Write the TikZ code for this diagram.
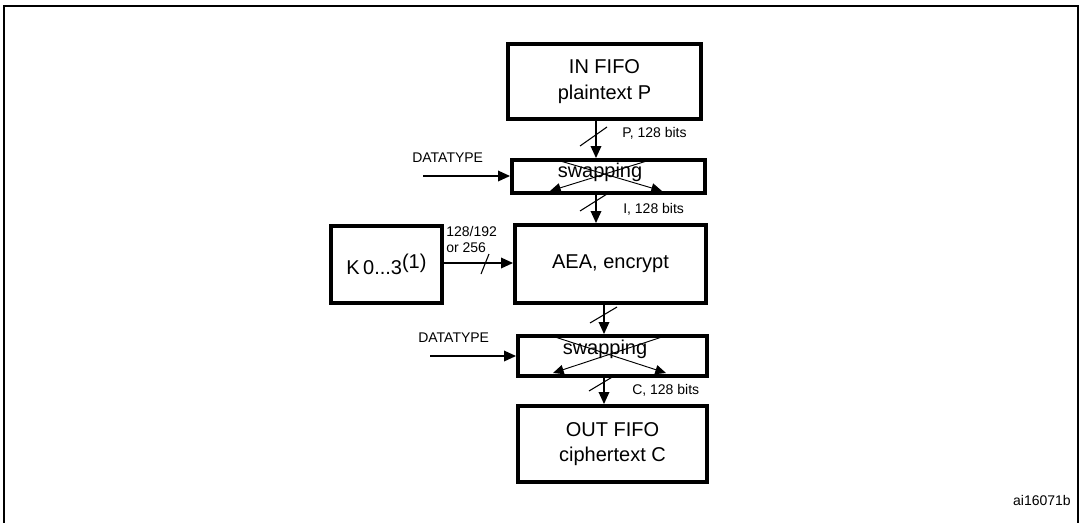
\documentclass[tikz,border=0pt]{standalone}
\usepackage{fontspec}
\setmainfont{Liberation Sans}
\usetikzlibrary{arrows.meta}
\begin{document}
\begin{tikzpicture}[x=0.75pt,y=-0.75pt,
  box/.style={draw,line width=3pt,inner sep=0pt,anchor=north west,align=center,font=\fontsize{15}{19}\selectfont},
  sbox/.style={draw,line width=3pt,inner sep=0pt,anchor=north west},
  arr/.style={line width=1pt,-{Triangle[length=9pt,width=8pt]}},
  cr/.style={line width=0.7pt},
  lab/.style={font=\fontsize{10.5}{12}\selectfont,inner sep=0pt},
  sl/.style={line width=0.8pt}]
\useasboundingbox (0,0) rectangle (1085,522);
\draw[line width=1pt] (4,530) -- (4,6) -- (1078,6) -- (1078,530);
\node[box,minimum width=144.75pt,minimum height=56.25pt] (in) at (506,42) {IN FIFO\\plaintext P};
\node[sbox,minimum width=144.75pt,minimum height=24.75pt] (s1) at (510,158) {};
\node[font=\fontsize{15}{18}\selectfont,inner sep=0pt] (s1t) at (600,172) {swapping};
\node[box,minimum width=143.25pt,minimum height=58.5pt] (aea) at (513,223) {AEA, encrypt};
\node[box,minimum width=83.25pt,minimum height=57.75pt] (k) at (329,224) {K\,0...3\raisebox{0.6ex}{(1)}};
\node[sbox,minimum width=141.75pt,minimum height=30pt] (s2) at (516,334) {};
\node[font=\fontsize{15}{18}\selectfont,inner sep=0pt] (s2t) at (605,349) {swapping};
\node[box,minimum width=141.75pt,minimum height=57pt] (out) at (516,404) {OUT FIFO\\ciphertext C};
% cross lines
\coordinate (c1a) at (557,160); \coordinate (c1b) at (662,191);
\coordinate (c1c) at (650,160); \coordinate (c1d) at (550,191);
\draw[cr,-{Triangle[length=8pt,width=7pt]}] (c1a) -- (c1b);
\draw[cr,-{Triangle[length=8pt,width=7pt]}] (c1c) -- (c1d);
\coordinate (c2a) at (555,337); \coordinate (c2b) at (666,373);
\coordinate (c2c) at (662,337); \coordinate (c2d) at (553,373);
\draw[cr,-{Triangle[length=8pt,width=7pt]}] (c2a) -- (c2b);
\draw[cr,-{Triangle[length=8pt,width=7pt]}] (c2c) -- (c2d);
% vertical arrows
\draw[arr] (in.south -| 596,0) -- (s1.north -| 596,0);
\draw[sl] (580,146) -- (607,127);
\node[lab,anchor=west] (lp) at (622,133) {P, 128 bits};
\draw[arr] (s1.south -| 596,0) -- (aea.north -| 596,0);
\draw[sl] (580,211) -- (607,194);
\node[lab,anchor=west] (li) at (623,209) {I, 128 bits};
\draw[arr] (aea.south -| 604,0) -- (s2.north -| 604,0);
\draw[sl] (590,323) -- (617,307);
\draw[arr] (s2.south -| 604,0) -- (out.north -| 604,0);
\draw[sl] (589,391) -- (614,376);
\node[lab,anchor=west] (lc) at (632,390) {C, 128 bits};
% datatype inputs
\node[lab,anchor=west] (d1) at (412,158) {DATATYPE};
\coordinate (d1s) at (423,176);
\draw[arr] (d1s) -- (s1.west |- d1s);
\node[lab,anchor=west] (d2) at (418,338) {DATATYPE};
\coordinate (d2s) at (430,356);
\draw[arr] (d2s) -- (s2.west |- d2s);
% key
\draw[arr] (k.east |- 0,263) -- (aea.west |- 0,263);
\draw[sl] (481,274) -- (489,254);
\node[lab,anchor=west,align=left] (kl) at (446,239) {128/192\\or 256};
\node[lab,anchor=east] (id) at (1071,500) {ai16071b};
\end{tikzpicture}
\end{document}
